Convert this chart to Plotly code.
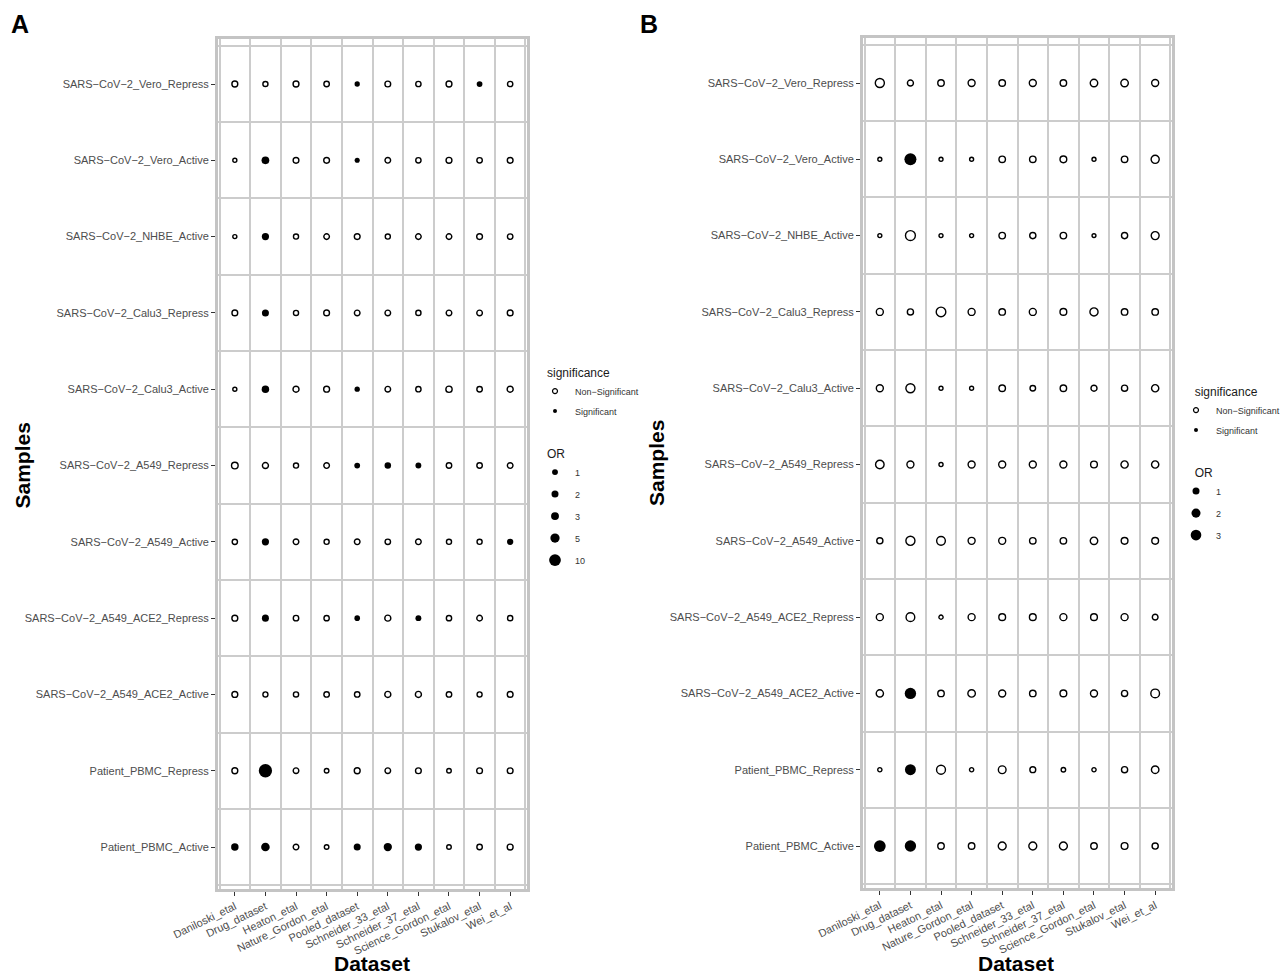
import numpy as np
import plotly.graph_objects as go

datasets = ["Daniloski_etal", "Drug_dataset", "Heaton_etal", "Nature_Gordon_etal",
            "Pooled_dataset", "Schneider_33_etal", "Schneider_37_etal",
            "Science_Gordon_etal", "Stukalov_etal", "Wei_et_al"]

# rows listed top to bottom
samples = ["SARS−CoV−2_Vero_Repress", "SARS−CoV−2_Vero_Active", "SARS−CoV−2_NHBE_Active",
           "SARS−CoV−2_Calu3_Repress", "SARS−CoV−2_Calu3_Active", "SARS−CoV−2_A549_Repress",
           "SARS−CoV−2_A549_Active", "SARS−CoV−2_A549_ACE2_Repress",
           "SARS−CoV−2_A549_ACE2_Active", "Patient_PBMC_Repress", "Patient_PBMC_Active"]

or_a = [
    [1.0, 0.5, 1.0, 0.7, 0.6, 0.9, 0.6, 1.0, 0.9, 0.6],
    [0.1, 2.8, 0.9, 0.9, 0.5, 0.8, 0.6, 1.0, 0.7, 0.9],
    [0.1, 2.2, 0.5, 0.8, 0.9, 0.5, 0.8, 0.8, 0.9, 0.7],
    [0.9, 2.0, 0.5, 0.9, 0.8, 0.8, 0.55, 0.8, 0.8, 0.9],
    [0.1, 2.5, 1.1, 1.0, 0.6, 0.8, 0.6, 1.3, 0.7, 1.1],
    [1.6, 1.1, 0.5, 0.8, 0.9, 1.5, 1.0, 0.7, 0.7, 0.8],
    [0.6, 2.2, 0.8, 0.5, 0.8, 0.7, 0.8, 0.5, 0.5, 1.3],
    [1.0, 2.0, 0.7, 0.6, 0.8, 1.1, 1.0, 0.6, 0.8, 0.55],
    [1.0, 0.45, 0.55, 0.7, 0.7, 1.1, 1.1, 0.7, 0.45, 0.9],
    [1.0, 14.0, 0.8, 0.25, 1.0, 0.8, 0.9, 0.25, 0.9, 0.9],
    [2.5, 4.0, 0.8, 0.25, 2.0, 3.5, 2.2, 0.25, 0.7, 1.0],
]
sig_a = [
    [0, 0, 0, 0, 1, 0, 0, 0, 1, 0],
    [0, 1, 0, 0, 1, 0, 0, 0, 0, 0],
    [0, 1, 0, 0, 0, 0, 0, 0, 0, 0],
    [0, 1, 0, 0, 0, 0, 0, 0, 0, 0],
    [0, 1, 0, 0, 1, 0, 0, 0, 0, 0],
    [0, 0, 0, 0, 1, 1, 1, 0, 0, 0],
    [0, 1, 0, 0, 0, 0, 0, 0, 0, 1],
    [0, 1, 0, 0, 1, 0, 1, 0, 0, 0],
    [0, 0, 0, 0, 0, 0, 0, 0, 0, 0],
    [0, 1, 0, 0, 0, 0, 0, 0, 0, 0],
    [1, 1, 0, 0, 1, 1, 1, 0, 0, 0],
]

or_b = [
    [2.0, 0.65, 0.8, 1.0, 0.8, 1.0, 0.8, 1.2, 1.2, 1.0],
    [0.16, 4.0, 0.16, 0.16, 0.8, 0.8, 0.9, 0.16, 0.8, 1.5],
    [0.16, 2.5, 0.16, 0.16, 0.8, 0.7, 0.8, 0.14, 0.7, 1.4],
    [1.0, 0.7, 2.3, 1.0, 0.8, 1.0, 0.9, 1.5, 0.8, 0.8],
    [1.0, 2.0, 0.16, 0.16, 0.8, 0.5, 0.8, 0.65, 0.7, 1.1],
    [1.7, 1.0, 0.18, 1.0, 1.0, 1.0, 1.0, 0.9, 1.1, 1.1],
    [0.7, 2.0, 1.8, 1.0, 1.0, 0.8, 0.8, 1.2, 0.9, 0.9],
    [1.0, 1.8, 0.2, 1.0, 0.9, 0.9, 1.0, 0.9, 1.0, 0.55],
    [1.1, 3.5, 0.8, 1.2, 1.0, 0.8, 0.9, 1.0, 0.7, 1.8],
    [0.2, 3.2, 1.9, 0.2, 1.3, 0.6, 0.25, 0.2, 0.7, 1.2],
    [3.8, 3.5, 0.8, 0.8, 1.4, 1.4, 1.4, 0.8, 0.9, 0.7],
]
sig_b = [
    [0, 0, 0, 0, 0, 0, 0, 0, 0, 0],
    [0, 1, 0, 0, 0, 0, 0, 0, 0, 0],
    [0, 0, 0, 0, 0, 0, 0, 0, 0, 0],
    [0, 0, 0, 0, 0, 0, 0, 0, 0, 0],
    [0, 0, 0, 0, 0, 0, 0, 0, 0, 0],
    [0, 0, 0, 0, 0, 0, 0, 0, 0, 0],
    [0, 0, 0, 0, 0, 0, 0, 0, 0, 0],
    [0, 0, 0, 0, 0, 0, 0, 0, 0, 0],
    [0, 1, 0, 0, 0, 0, 0, 0, 0, 0],
    [0, 1, 0, 0, 0, 0, 0, 0, 0, 0],
    [1, 1, 0, 0, 0, 0, 0, 0, 0, 0],
]

or_breaks_a = [1, 2, 3, 5, 10]
or_breaks_b = [1, 2, 3]

FONT = "Liberation Sans"
GRID = "#cccccc"
BORDER = "#c4c4c4"

size_a = lambda v: 3.2 + 2.7 * np.sqrt(v)
size_b = lambda v: 2.0 + 5.0 * np.sqrt(v)

# page body has an 8px margin, so the figure is 8px smaller and positions shifted
OFF = 8
W, H = 1288 - OFF, 976 - OFF
px = lambda p: (p - OFF) / W
py = lambda p: 1 - (p - OFF) / H
NB = "\u00a0"

fig = go.Figure()


def add_panel(or_vals, sig_vals, size_fn, xa, ya, leg_sig, leg_or, breaks):
    n = len(samples)
    xs = {0: [], 1: []}
    ys = {0: [], 1: []}
    ss = {0: [], 1: []}
    for i, row in enumerate(or_vals):
        for j, v in enumerate(row):
            s = sig_vals[i][j]
            xs[s].append(j)
            ys[s].append(n - 1 - i)
            ss[s].append(size_fn(v))
    fig.add_trace(go.Scatter(
        x=xs[0], y=ys[0], mode="markers", xaxis=xa, yaxis=ya, showlegend=False,
        marker=dict(symbol="circle-open", color="black", size=ss[0], opacity=1,
                    line=dict(width=1.4)),
    ))
    fig.add_trace(go.Scatter(
        x=xs[1], y=ys[1], mode="markers", xaxis=xa, yaxis=ya, showlegend=False,
        marker=dict(symbol="circle", color="black", size=ss[1], opacity=1, line=dict(width=0)),
    ))
    # legend-only entries
    fig.add_trace(go.Scatter(
        x=[None], y=[None], mode="markers", xaxis=xa, yaxis=ya, name="Non−Significant",
        legend=leg_sig, legendgroup=f"{leg_sig}_ns",
        marker=dict(symbol="circle-open", color="black", size=5, line=dict(width=1.2)),
    ))
    fig.add_trace(go.Scatter(
        x=[None], y=[None], mode="markers", xaxis=xa, yaxis=ya, name="Significant",
        legend=leg_sig, legendgroup=f"{leg_sig}_s",
        marker=dict(symbol="circle", color="black", size=4),
    ))
    for b in breaks:
        fig.add_trace(go.Scatter(
            x=[None], y=[None], mode="markers", xaxis=xa, yaxis=ya, name=str(b),
            legend=leg_or, legendgroup=f"{leg_or}_{b}",
            marker=dict(symbol="circle", color="black", size=size_fn(b)),
        ))


add_panel(or_a, sig_a, size_a, "x", "y", "legend", "legend2", or_breaks_a)
add_panel(or_b, sig_b, size_b, "x2", "y2", "legend3", "legend4", or_breaks_b)

xaxis_style = dict(
    tickmode="array", tickvals=list(range(len(datasets))), ticktext=datasets,
    tickangle=-26, tickfont=dict(family=FONT, size=11, color="#4d4d4d"),
    ticks="outside", ticklen=4, tickcolor="#333333", tickwidth=1,
    range=[-0.55, 9.55], showgrid=False, zeroline=False, automargin=False,
    showline=True, mirror=True, linecolor=BORDER, linewidth=3,
    minor=dict(tickmode="linear", tick0=0.5, dtick=1, showgrid=True,
               gridcolor=GRID, gridwidth=1.5, ticks=""),
)
yaxis_style = dict(
    tickmode="array", tickvals=list(range(len(samples))), ticktext=samples[::-1],
    tickfont=dict(family=FONT, size=11, color="#4d4d4d"),
    ticks="outside", ticklen=4, tickcolor="#333333", tickwidth=1,
    range=[-0.55, 10.59], showgrid=False, zeroline=False, automargin=False,
    showline=True, mirror=True, linecolor=BORDER, linewidth=3,
    minor=dict(tickmode="linear", tick0=0.5, dtick=1, showgrid=True,
               gridcolor=GRID, gridwidth=1.5, ticks=""),
)

fig.update_layout(
    xaxis=dict(domain=[px(218), px(527)], anchor="y", **xaxis_style),
    yaxis=dict(domain=[py(889), py(39)], anchor="x", **yaxis_style),
    xaxis2=dict(domain=[px(863), px(1172)], anchor="y2", **xaxis_style),
    yaxis2=dict(domain=[py(888), py(38)], anchor="x2", **yaxis_style),
)

leg_common = dict(
    bgcolor="rgba(0,0,0,0)", font=dict(family=FONT, size=9, color="#333333"),
    itemsizing="trace", xanchor="left", yanchor="top",
)
title_font = dict(family=FONT, size=12, color="#1a1a1a")
fig.update_layout(
    legend=dict(x=px(535), y=py(361), tracegroupgap=1,
                title=dict(text=NB * 3 + "significance", font=title_font), **leg_common),
    legend2=dict(x=px(535), y=py(442), tracegroupgap=3,
                 title=dict(text=NB * 3 + "OR", font=title_font), **leg_common),
    legend3=dict(x=px(1176), y=py(380), tracegroupgap=1,
                 title=dict(text=NB * 5 + "significance", font=title_font), **leg_common),
    legend4=dict(x=px(1176), y=py(461), tracegroupgap=3,
                 title=dict(text=NB * 5 + "OR", font=title_font), **leg_common),
)

ann_font = dict(family=FONT, size=21, color="black")
for txt, x in [("<b>A</b>", 9), ("<b>B</b>", 638)]:
    fig.add_annotation(text=txt, x=px(x), y=py(8), xref="paper", yref="paper",
                       xanchor="left", yanchor="top",
                       showarrow=False, font=dict(family=FONT, size=25, color="black"))
for x in [372, 1016]:
    fig.add_annotation(text="<b>Dataset</b>", x=px(x), y=py(963), xref="paper", yref="paper",
                       xanchor="center", yanchor="middle", showarrow=False, font=ann_font)
fig.add_annotation(text="<b>Samples</b>", x=px(9), y=py(466), xref="paper", yref="paper",
                   xanchor="left", yanchor="middle",
                   showarrow=False, textangle=-90, font=ann_font)
fig.add_annotation(text="<b>Samples</b>", x=px(656), y=py(463), xref="paper", yref="paper",
                   xanchor="center", yanchor="middle",
                   showarrow=False, textangle=-90, font=ann_font)

fig.update_layout(
    width=W, height=H,
    margin=dict(l=0, r=0, t=0, b=0, autoexpand=False),
    paper_bgcolor="white", plot_bgcolor="white",
    font=dict(family=FONT),
)

fig.write_html("out.html")
